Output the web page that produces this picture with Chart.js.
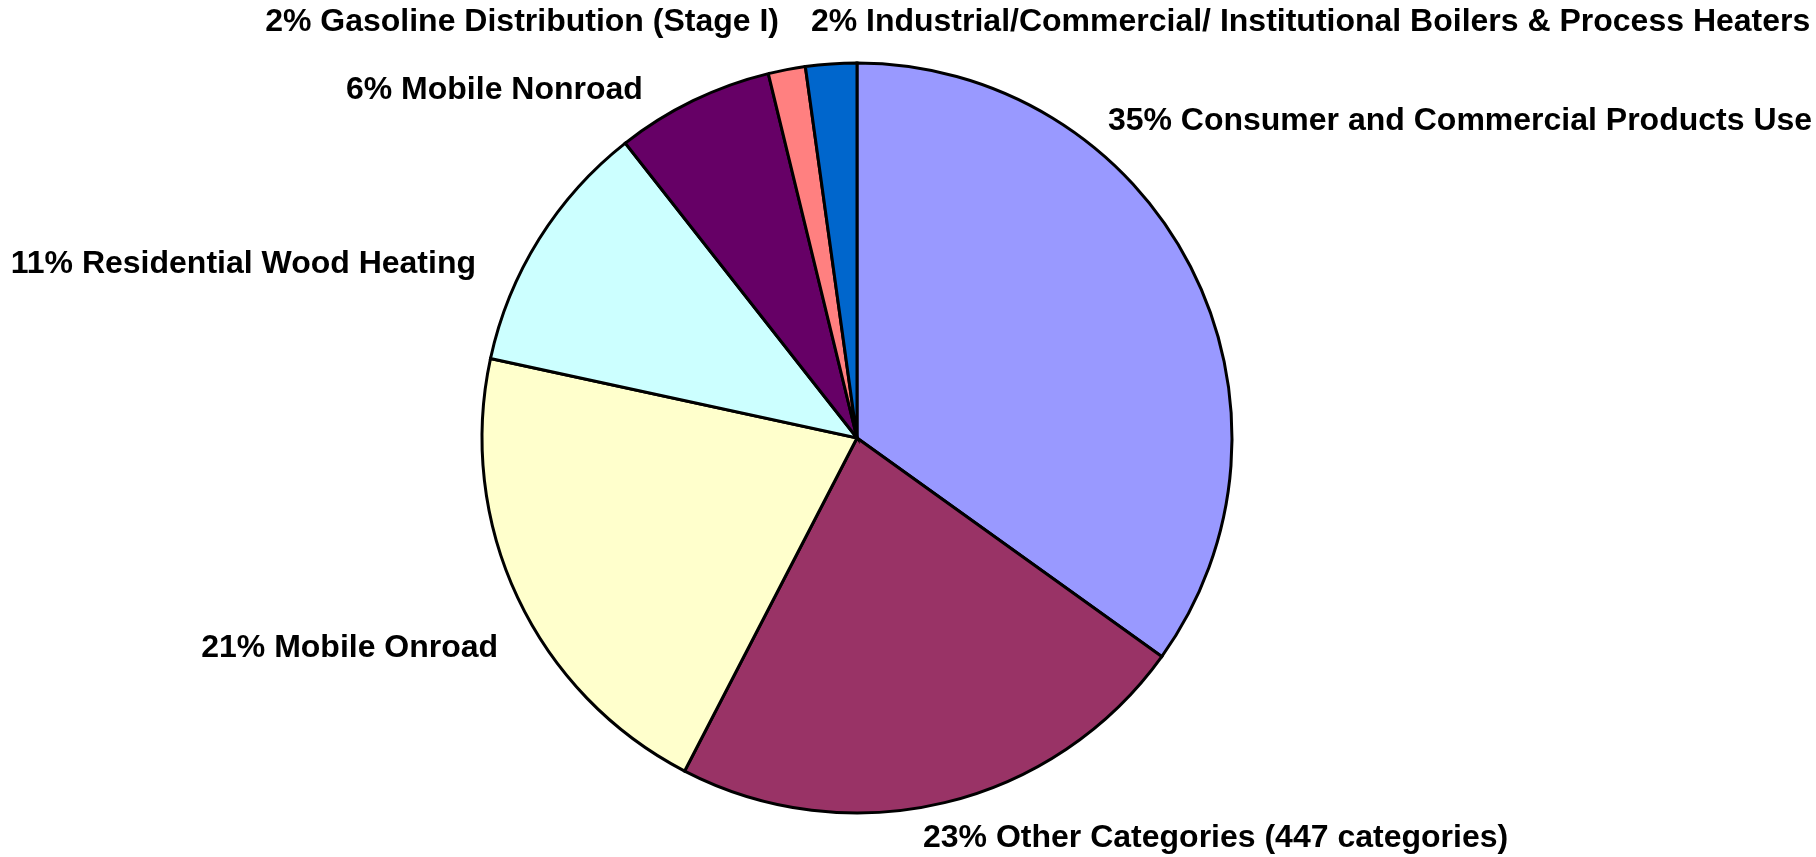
<!DOCTYPE html>
<html>
<head>
<meta charset="utf-8">
<title>Emissions by category</title>
<script src="https://cdn.jsdelivr.net/npm/chart.js@4/dist/chart.umd.min.js"></script>
<style>
  html, body { margin: 0; padding: 0; background: #ffffff; }
  #wrap { position: relative; width: 1816px; height: 857px; }
</style>
</head>
<body>
<div id="wrap"><canvas id="pieChart" width="1816" height="857"></canvas></div>
<script>
// 数据：扇区从 12 点方向开始顺时针
const categories = [
  'Consumer and Commercial Products Use',
  'Other Categories (447 categories)',
  'Mobile Onroad',
  'Residential Wood Heating',
  'Mobile Nonroad',
  'Gasoline Distribution (Stage I)',
  'Industrial/Commercial/ Institutional Boilers & Process Heaters'
];
const shares = [34.9, 22.7, 20.8, 11.0, 6.8, 1.6, 2.2];
const percentLabels = ['35%', '23%', '21%', '11%', '6%', '2%', '2%'];
const sliceColors = ['#9999FF', '#993366', '#FFFFCC', '#CCFFFF', '#660066', '#FF8080', '#0066CC'];

// 标签位置：相对于饼图中心，以半径为单位
const labelLayout = [
  { dx: 0.669, dy: -0.845, align: 'left' },
  { dx: 0.176, dy: 1.066, align: 'left' },
  { dx: -0.957, dy: 0.560, align: 'right' },
  { dx: -1.016, dy: -0.463, align: 'right' },
  { dx: -0.571, dy: -0.928, align: 'right' },
  { dx: -0.208, dy: -1.108, align: 'right' },
  { dx: -0.123, dy: -1.108, align: 'left' }
];

const labelFont = 'bold 32px "Liberation Sans", Arial, sans-serif';

const outsideLabels = {
  id: 'outsideLabels',
  afterDatasetsDraw(chart) {
    const meta = chart.getDatasetMeta(0);
    const ctx = chart.ctx;
    ctx.save();
    ctx.font = labelFont;
    ctx.fillStyle = '#000000';
    ctx.textBaseline = 'middle';
    meta.data.forEach((arc, i) => {
      const lay = labelLayout[i];
      const r = arc.outerRadius;
      ctx.textAlign = lay.align;
      ctx.fillText(percentLabels[i] + ' ' + categories[i], arc.x + lay.dx * r, arc.y + lay.dy * r);
    });
    ctx.restore();
  }
};

new Chart(document.getElementById('pieChart').getContext('2d'), {
  type: 'pie',
  data: {
    labels: categories,
    datasets: [{
      data: shares,
      backgroundColor: sliceColors,
      borderColor: '#000000',
      borderWidth: 3,
      borderJoinStyle: 'miter'
    }]
  },
  options: {
    responsive: false,
    animation: false,
    radius: 375,
    layout: { padding: { left: 480, right: 582, top: 63, bottom: 44 } },
    plugins: {
      legend: { display: false },
      tooltip: { enabled: false },
      title: { display: false }
    }
  },
  plugins: [outsideLabels]
});
</script>
</body>
</html>
